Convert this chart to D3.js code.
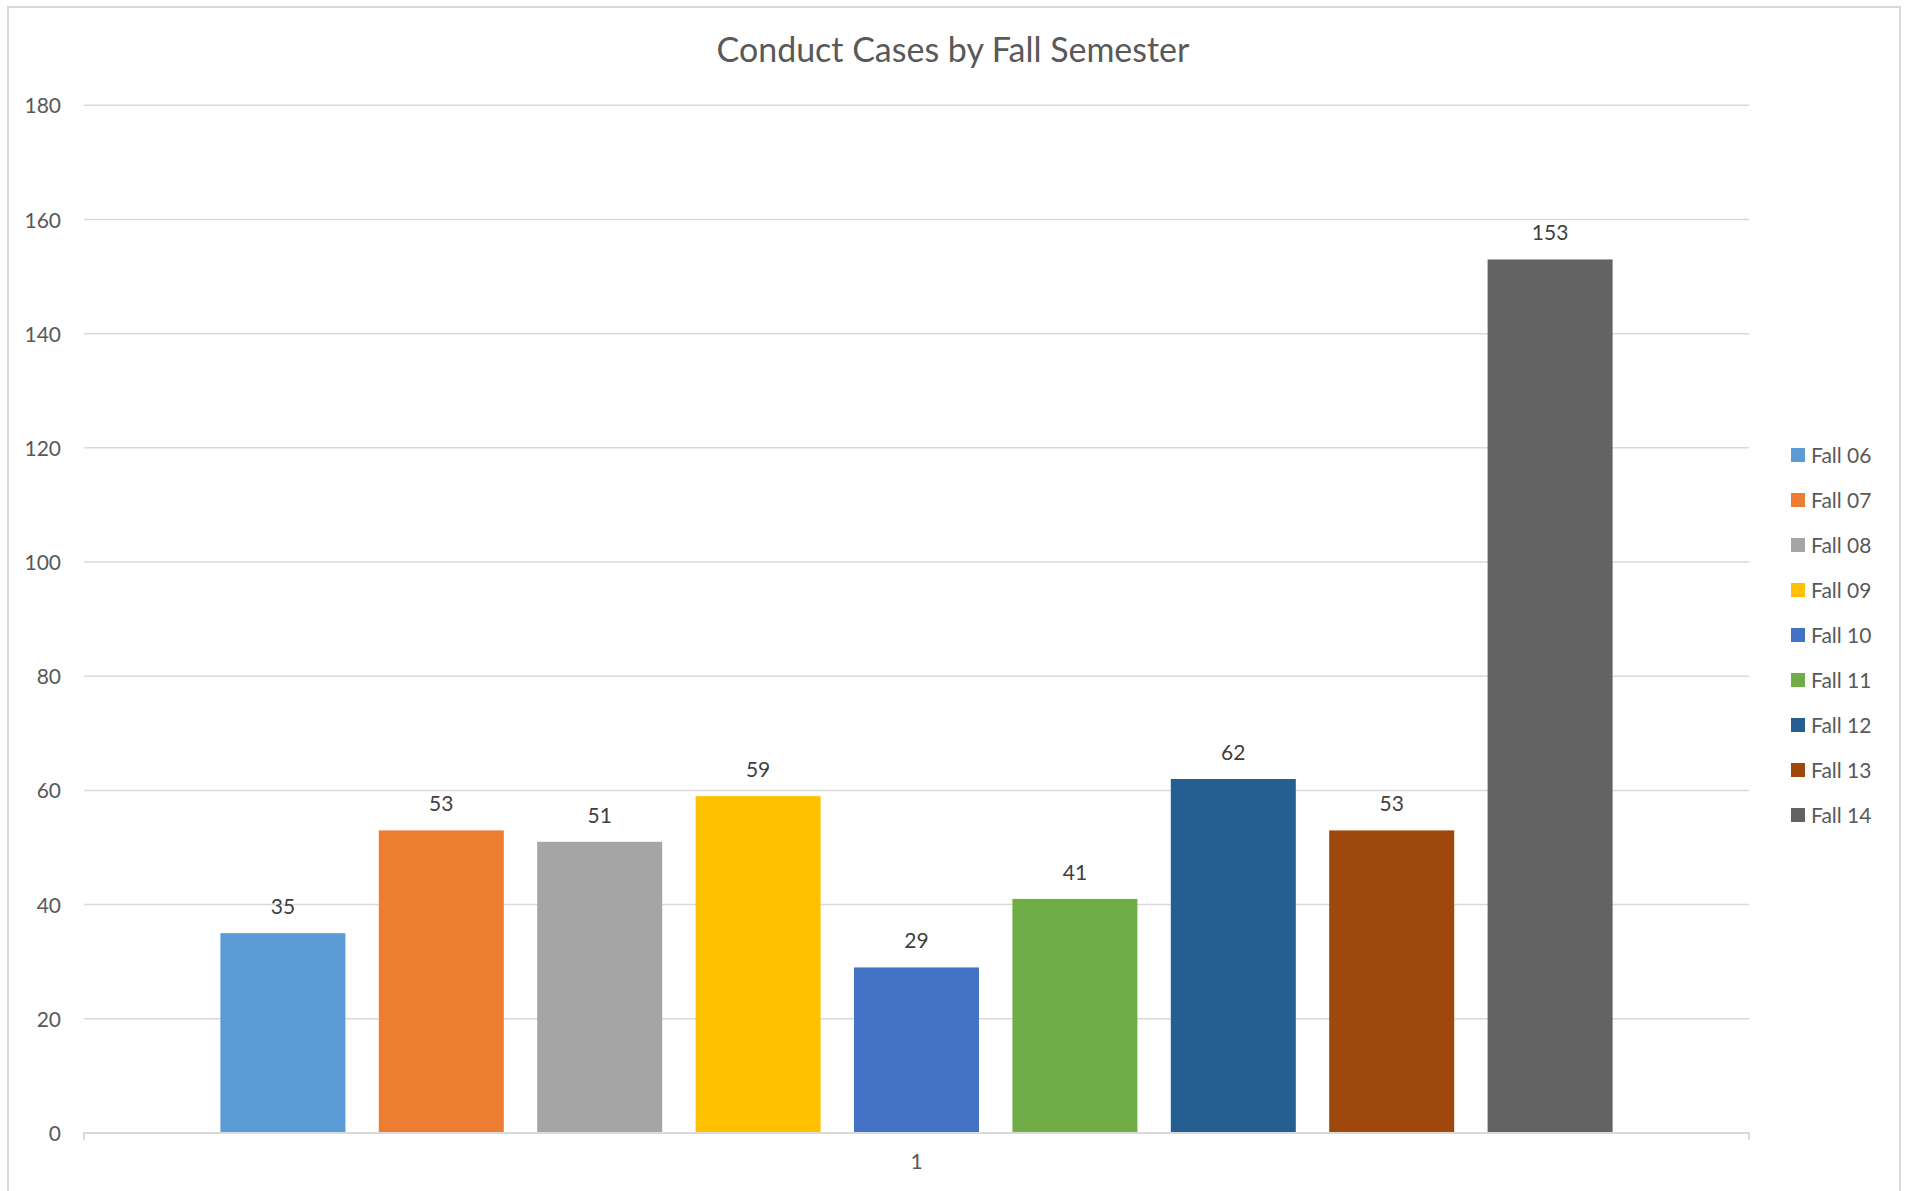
<!DOCTYPE html>
<html>
<head>
<meta charset="utf-8">
<script src="https://cdn.jsdelivr.net/npm/d3@7"></script>
<style>
  html, body { margin: 0; padding: 0; background: #ffffff; }
  svg { display: block; }
  text { font-family: Lato, "Open Sans", sans-serif; }
</style>
</head>
<body>
<svg id="chart" width="1908" height="1191"></svg>
<script>
// Conduct cases per fall semester, one clustered group (category "1")
const categories = ["1"];
const series = ["Fall 06", "Fall 07", "Fall 08", "Fall 09", "Fall 10", "Fall 11", "Fall 12", "Fall 13", "Fall 14"];
const values = [35, 53, 51, 59, 29, 41, 62, 53, 153];
const colors = ["#5B9BD5", "#ED7D31", "#A5A5A5", "#FFC000", "#4472C4", "#70AD47", "#255E91", "#9E480E", "#636363"];
const yTicks = [0, 20, 40, 60, 80, 100, 120, 140, 160, 180];

const W = 1908, H = 1191;
const plot = { left: 84, right: 1749, top: 105.3, bottom: 1133 };

const svg = d3.select("#chart");

// chart area frame
svg.append("rect")
  .attr("x", 8).attr("y", 7)
  .attr("width", 1892).attr("height", 1200)
  .attr("fill", "#ffffff")
  .attr("stroke", "#d9d9d9")
  .attr("stroke-width", 2);

const y = d3.scaleLinear().domain([0, 180]).range([plot.bottom, plot.top]);

// category band, then series bands inside it
const step = 158.4, gap = 33.4;
const groupWidth = step * series.length;
const x0 = d3.scaleBand()
  .domain(categories)
  .range([plot.left, plot.right])
  .paddingInner(0)
  .paddingOuter(((plot.right - plot.left) / groupWidth - 1) / 2);

const x1 = d3.scaleBand()
  .domain(series)
  .range([0, x0.bandwidth()])
  .paddingInner(gap / step)
  .paddingOuter(gap / step / 2);

// gridlines
const grid = svg.append("g").attr("class", "grid");
grid.selectAll("line")
  .data(yTicks.filter(d => d !== 0))
  .join("line")
  .attr("x1", plot.left).attr("x2", plot.right)
  .attr("y1", d => y(d)).attr("y2", d => y(d))
  .attr("stroke", "#d9d9d9")
  .attr("stroke-width", 1.5);

// y axis labels
const yAxis = d3.axisLeft(y).tickValues(yTicks).tickSize(0).tickPadding(23);
const gy = svg.append("g")
  .attr("transform", `translate(${plot.left},0)`)
  .call(yAxis);
gy.select(".domain").remove();
gy.selectAll("text")
  .attr("font-family", "Lato, 'Open Sans', sans-serif")
  .attr("font-size", 21)
  .attr("fill", "#595959")
  .attr("dy", "0.36em");

// bars
const bars = svg.append("g")
  .selectAll("g")
  .data(categories)
  .join("g")
  .attr("transform", d => `translate(${x0(d)},0)`);

bars.selectAll("rect")
  .data(series.map((s, i) => ({ s, v: values[i], c: colors[i] })))
  .join("rect")
  .attr("x", d => x1(d.s))
  .attr("width", x1.bandwidth())
  .attr("y", d => y(d.v))
  .attr("height", d => y(0) - y(d.v))
  .attr("fill", d => d.c);

// data labels
bars.selectAll("text.value")
  .data(series.map((s, i) => ({ s, v: values[i] })))
  .join("text")
  .attr("class", "value")
  .attr("x", d => x1(d.s) + x1.bandwidth() / 2)
  .attr("y", d => y(d.v) - 19)
  .attr("text-anchor", "middle")
  .attr("font-size", 21)
  .attr("fill", "#404040")
  .text(d => d.v);

// x axis line with end ticks
const xAxis = d3.axisBottom(x0).tickSize(0).tickPadding(21);
const gx = svg.append("g")
  .attr("transform", `translate(0,${plot.bottom})`)
  .call(xAxis);
gx.select(".domain").remove();
gx.selectAll("text")
  .attr("font-family", "Lato, 'Open Sans', sans-serif")
  .attr("font-size", 21)
  .attr("fill", "#595959")
  .attr("dy", "0.71em");
gx.append("path")
  .attr("d", `M${plot.left},7V0H${plot.right}V7`)
  .attr("fill", "none")
  .attr("stroke", "#d9d9d9")
  .attr("stroke-width", 2);

// title
const title = svg.append("text")
  .attr("x", 953)
  .attr("y", 62)
  .attr("text-anchor", "middle")
  .attr("font-size", 26)
  .attr("fill", "#595959")
  .text("Conduct Cases by Fall Semester");
const tw = title.node().getComputedTextLength();
title.attr("font-size", 26 * 473 / tw);

// legend
const legend = svg.append("g")
  .attr("transform", "translate(1791,455)");
const item = legend.selectAll("g")
  .data(series.map((s, i) => ({ s, c: colors[i] })))
  .join("g")
  .attr("transform", (d, i) => `translate(0,${i * 45})`);
item.append("rect")
  .attr("x", 0).attr("y", -7)
  .attr("width", 14).attr("height", 14)
  .attr("fill", d => d.c);
item.append("text")
  .attr("x", 20)
  .attr("y", 7.5)
  .attr("font-size", 21)
  .attr("fill", "#595959")
  .text(d => d.s);
</script>
</body>
</html>
